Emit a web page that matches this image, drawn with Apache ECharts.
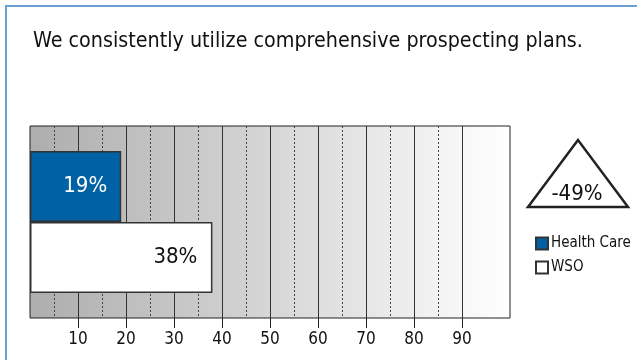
<!DOCTYPE html>
<html><head><meta charset="utf-8">
<script src="https://cdn.jsdelivr.net/npm/echarts@6/dist/echarts.min.js"></script>
<style>html,body{margin:0;padding:0;background:#fff}#c{width:637px;height:360px}</style>
</head><body><div id="c"></div>
<script>
const title = 'We consistently utilize comprehensive prospecting plans.';
const categories = [''];
const seriesNames = ['Health Care', 'WSO'];
const healthCare = [19];
const wso = [38];
const changeLabel = '-49%';
const tickValues = [10, 20, 30, 40, 50, 60, 70, 80, 90];
const minorLines = [5, 15, 25, 35, 45, 55, 65, 75, 85];

const FONT = "'DejaVu Sans Condensed', 'DejaVu Sans'";
const chart = echarts.init(document.getElementById('c'), null, {renderer: 'canvas'});
chart.setOption({
  animation: false,
  textStyle: {fontFamily: FONT},
  title: {text: title, left: 28, top: 26, padding: 5, textStyle: {fontFamily: FONT, fontSize: 21.3, fontWeight: 'normal', color: '#111'}},
  grid: {left: 30, top: 126, width: 480, height: 192, show: true, borderColor: '#222', borderWidth: 1,
    backgroundColor: new echarts.graphic.LinearGradient(0, 0, 1, 0, [{offset: 0, color: '#adadae'}, {offset: 1, color: '#ffffff'}])},
  xAxis: {type: 'value', min: 0, max: 100, interval: 10,
    axisLine: {show: false},
    axisTick: {show: true, length: 10, lineStyle: {color: '#222'}, customValues: tickValues},
    axisLabel: {customValues: tickValues, fontSize: 17, color: '#111', margin: 13, fontFamily: FONT},
    splitLine: {show: true, lineStyle: {color: '#333', width: 1}}},
  yAxis: {type: 'category', data: categories, inverse: true, axisLine: {show: false}, axisTick: {show: false}, axisLabel: {show: false}},
  legend: {orient: 'vertical', left: 530, top: 231, itemWidth: 12, itemHeight: 12, itemGap: 9, icon: 'rect',
    textStyle: {fontSize: 15, color: '#111', fontFamily: FONT, padding: [0, 0, 0, -2]},
    data: seriesNames},
  series: [
    {name: 'grid-minor', type: 'line', data: [], z: 1, silent: true,
      markLine: {silent: true, z: 1, symbol: 'none', label: {show: false}, lineStyle: {type: [2, 2], color: '#444', width: 1},
        data: minorLines.map(v => ({xAxis: v}))}},
    {name: seriesNames[0], type: 'bar', data: healthCare, barWidth: 71, barGap: '0%', z: 3,
      itemStyle: {color: '#0062a4', borderColor: '#333', borderWidth: 1.5},
      label: {show: true, position: 'insideRight', distance: 14, formatter: '{c}%', fontSize: 22, color: '#fff', fontFamily: FONT}},
    {name: seriesNames[1], type: 'bar', data: wso, barWidth: 71, z: 3,
      itemStyle: {color: '#ffffff', borderColor: '#333', borderWidth: 1.5},
      label: {show: true, position: 'insideRight', distance: 15, formatter: '{c}%', fontSize: 22, color: '#111', fontFamily: FONT}}
  ],
  graphic: [
    {type: 'rect', shape: {x: 6, y: 6, width: 700, height: 500}, style: {fill: 'none', stroke: '#6b9ed3', lineWidth: 2}},
    {type: 'polygon', shape: {points: [[578, 140], [528, 207], [628, 207]]}, style: {fill: '#fff', stroke: '#222', lineWidth: 2.5}},
    {type: 'text', x: 577, y: 194, style: {text: changeLabel, fontSize: 22, fontFamily: FONT, fill: '#111', align: 'center', verticalAlign: 'middle'}}
  ]
});
</script></body></html>
